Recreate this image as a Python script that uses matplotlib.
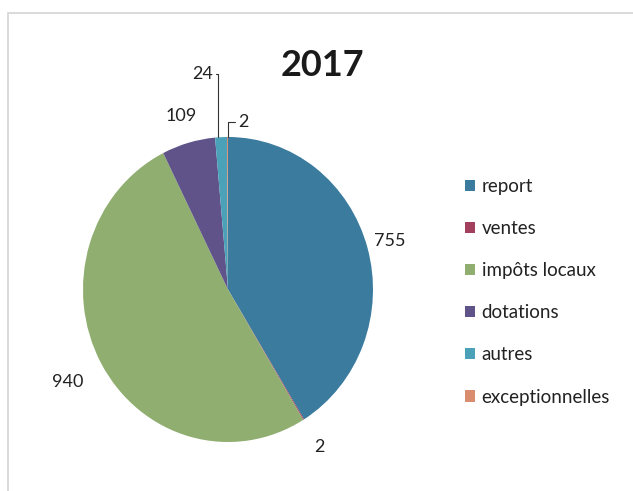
import matplotlib
matplotlib.use("Agg")
import matplotlib.pyplot as plt
from matplotlib.patches import Rectangle, Patch
import numpy as np

title = "2017"
categories = ["report", "ventes", "impôts locaux", "dotations", "autres", "exceptionnelles"]
values = [755, 2, 940, 109, 24, 2]
colors = ["#3b7b9e", "#a3405e", "#8fae70", "#5f5389", "#4ba1b8", "#da8c6e"]

plt.rcParams['font.family'] = ['Lato', 'DejaVu Sans']

W, H = 633, 491
fig = plt.figure(figsize=(W / 100, H / 100), dpi=100)
fig.patch.set_facecolor("white")

# light chart frame
fig.patches.append(Rectangle((8 / W, -0.05), 1.1, (H - 13) / H + 0.05, transform=fig.transFigure,
                             fill=False, edgecolor="#d4d4d4", linewidth=1.2))

ax = fig.add_axes([83 / W, (H - 442) / H, 290 / W, 305 / H])
wedges, _ = ax.pie(values, colors=colors, startangle=90, counterclock=False,
                   wedgeprops=dict(linewidth=0))
ax.set_aspect('auto')
ax.set_xlim(-1, 1)
ax.set_ylim(-1, 1)
ax.axis('off')

label_r = [1.16, 1.21, 1.26, 1.18]
for w, v, r in zip(wedges[:4], values[:4], label_r):
    a = np.deg2rad((w.theta1 + w.theta2) / 2)
    ax.text(r * np.cos(a), r * np.sin(a), str(v), ha='center', va='center',
            fontsize=13, color="#222222", clip_on=False)

# small slices with leader lines
w = wedges[4]
a = np.deg2rad((w.theta1 + w.theta2) / 2)
ax.annotate(str(values[4]), xy=(1.0 * np.cos(a) - 0.02, 1.0 * np.sin(a)), xytext=(-0.1, 1.41),
            ha='right', va='center', fontsize=13, color="#222222", annotation_clip=False,
            arrowprops=dict(arrowstyle='-', connectionstyle='angle,angleA=0,angleB=90,rad=0',
                            color="#333333", lw=0.8, shrinkA=0, shrinkB=0, relpos=(1, 0.5)))
w = wedges[5]
a = np.deg2rad((w.theta1 + w.theta2) / 2)
ax.annotate(str(values[5]), xy=(1.0 * np.cos(a), 1.0 * np.sin(a)), xytext=(0.07, 1.10),
            ha='left', va='center', fontsize=13, color="#222222", annotation_clip=False,
            arrowprops=dict(arrowstyle='-', connectionstyle='angle,angleA=0,angleB=90,rad=0',
                            color="#333333", lw=0.8, shrinkA=0, shrinkB=0, relpos=(0, 0.5)))

fig.text(322 / W, 1 - 66 / H, title, ha='center', va='center', fontsize=26,
         fontweight='bold', color="#1a1a1a")

handles = [Patch(facecolor=c, edgecolor='none') for c in colors]
fig.legend(handles, categories, loc='upper left', bbox_to_anchor=(448 / W, 1 - 161 / H),
           frameon=False, fontsize=13.5, labelspacing=1.34, handlelength=0.55,
           handleheight=0.55, handletextpad=0.35, labelcolor="#222222")

fig.savefig("out.png", dpi=100, facecolor="white")
